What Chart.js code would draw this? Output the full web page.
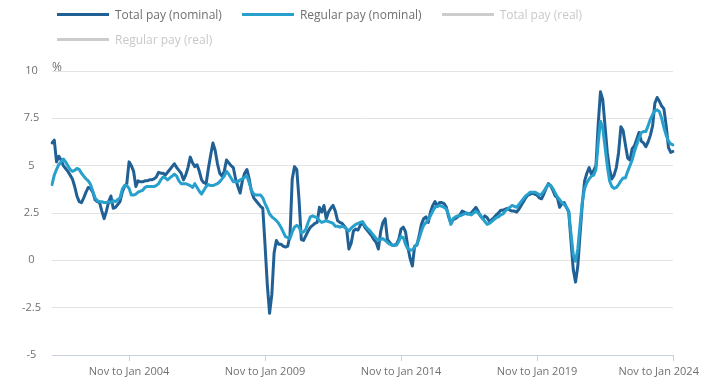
<!DOCTYPE html>
<html>
<head>
<meta charset="utf-8">
<title>Average weekly earnings growth</title>
<script src="https://cdn.jsdelivr.net/npm/chart.js@4.4.1/dist/chart.umd.min.js"></script>
<style>
    html, body { margin: 0; padding: 0; background: #fff; }
    #wrap { position: relative; width: 710px; height: 391px; font-family: 'Open Sans', sans-serif; }
    #chart { position: absolute; left: 0; top: 0; }
    #legend { position: absolute; left: 57px; top: 4px; width: 560px; display: flex; flex-wrap: wrap; column-gap: 20px; row-gap: 5px; }
    #legend .item { display: flex; align-items: center; height: 20px; font-size: 12px; color: #707070; white-space: nowrap; }
    #legend .item.off { color: #c8c8c8; }
    #legend .swatch { display: inline-block; width: 52px; height: 3px; margin-right: 6px; }
    #unit { position: absolute; left: 52px; top: 58px; font-size: 12px; color: #707070; }
</style>
</head>
<body>
<div id="wrap">
    <canvas id="chart" width="710" height="391"></canvas>
    <div id="legend"></div>
    <span id="unit">%</span>
</div>
<script>
// ==================== DATA ====================

// 3-month average, % change on a year earlier; first period is Jan to Mar 2001
const totalPayNominal = [
    6.2, 6.35, 5.2, 5.5, 5.3, 5.0, 4.85, 4.7, 4.5, 4.3,
    3.9, 3.4, 3.1, 3.05, 3.3, 3.6, 3.85, 3.8, 3.6, 3.2,
    3.1, 3.05, 2.6, 2.2, 2.6, 3.1, 3.4, 2.75, 2.8, 2.95,
    3.1, 3.6, 3.9, 4.05, 5.2, 5.0, 4.7, 3.9, 4.2, 4.15,
    4.15, 4.2, 4.2, 4.25, 4.25, 4.3, 4.4, 4.65, 4.6, 4.6,
    4.5, 4.65, 4.8, 4.95, 5.1, 4.9, 4.75, 4.6, 4.25, 4.5,
    4.9, 5.45, 5.15, 4.95, 5.05, 4.7, 4.25, 4.1, 4.05, 4.85,
    5.55, 6.2, 5.8, 5.1, 4.6, 4.45, 4.7, 5.3, 5.15, 5.0,
    4.9, 4.3, 3.9, 3.55, 4.2, 4.6, 4.8, 4.3, 3.65, 3.3,
    3.15, 3.0, 2.85, 2.75, 0.8, -1.3, -2.8, -1.8, 0.4, 1.05,
    0.85, 0.85, 0.75, 0.7, 0.75, 1.3, 4.3, 4.95, 4.8, 3.2,
    1.1, 1.05, 1.3, 1.55, 1.75, 1.85, 1.95, 2.0, 2.8, 2.55,
    2.9, 2.2, 2.55, 2.75, 2.9, 2.6, 2.1, 2.0, 1.95, 1.8,
    1.65, 0.6, 0.9, 1.55, 1.65, 1.6, 1.85, 2.0, 1.75, 1.6,
    1.45, 1.3, 1.1, 0.95, 0.6, 1.5, 2.0, 2.2, 1.1, 0.95,
    0.8, 0.8, 0.85, 1.1, 1.65, 1.75, 1.5, 0.7, 0.1, -0.3,
    0.75, 0.8, 1.3, 1.9, 2.2, 2.3, 2.0, 2.55, 2.9, 3.1,
    2.85, 3.05, 3.05, 3.0, 2.8, 2.3, 1.95, 2.15, 2.2, 2.3,
    2.4, 2.6, 2.55, 2.45, 2.45, 2.5, 2.65, 2.8, 2.6, 2.35,
    2.2, 2.35, 2.25, 2.05, 2.15, 2.25, 2.4, 2.5, 2.65, 2.65,
    2.7, 2.75, 2.65, 2.6, 2.6, 2.55, 2.7, 2.9, 3.1, 3.3,
    3.45, 3.5, 3.55, 3.5, 3.45, 3.3, 3.25, 3.5, 3.8, 4.05,
    3.95, 3.7, 3.4, 3.3, 2.8, 3.0, 3.05, 2.8, 2.55, 1.0,
    -0.5, -1.15, -0.3, 1.4, 3.0, 4.2, 4.6, 4.9, 4.55, 4.75,
    5.0, 7.2, 8.9, 8.5, 7.1, 5.7, 4.8, 4.3, 4.5, 4.9,
    5.7, 7.05, 6.85, 6.1, 5.4, 5.3, 5.9, 6.05, 6.4, 6.75,
    6.3, 6.2, 6.0, 6.25, 6.6, 7.1, 8.3, 8.6, 8.4, 8.15,
    8.0, 7.1, 5.95, 5.7, 5.75
];

const regularPayNominal = [
    4.0, 4.5, 4.8, 5.05, 5.2, 5.35, 5.2, 5.0, 4.8, 4.7,
    4.75, 4.85, 4.8, 4.6, 4.45, 4.3, 4.2, 4.0, 3.65, 3.3,
    3.15, 3.1, 3.1, 3.05, 3.05, 3.1, 3.05, 3.15, 3.1, 3.2,
    3.3, 3.75, 3.95, 3.95, 3.8, 3.45, 3.45, 3.5, 3.6, 3.65,
    3.7, 3.85, 3.9, 3.9, 3.9, 3.9, 3.95, 4.05, 4.25, 4.4,
    4.35, 4.25, 4.35, 4.45, 4.55, 4.45, 4.2, 4.05, 4.05, 4.05,
    4.0, 3.95, 3.85, 4.05, 3.85, 3.65, 3.5, 3.7, 3.9, 4.0,
    3.95, 3.95, 4.0, 4.05, 4.15, 4.3, 4.45, 4.7, 4.55, 4.35,
    4.15, 4.15, 4.15, 4.25, 4.3, 4.4, 4.45, 4.1, 3.7, 3.5,
    3.45, 3.45, 3.45, 3.3, 3.0, 2.75, 2.45, 2.3, 2.2, 2.1,
    1.95, 1.75, 1.5, 1.25, 1.2, 1.15, 1.5, 1.75, 1.85, 1.75,
    1.45, 1.5, 1.65, 2.0, 2.3, 2.35, 2.3, 2.25, 2.1, 2.0,
    2.05, 2.1, 2.05, 2.0, 1.95, 1.8, 1.8, 1.75, 1.8, 1.75,
    1.65, 1.55, 1.7, 1.8, 1.9, 1.95, 2.0, 2.05, 1.85, 1.7,
    1.6, 1.45, 1.3, 1.15, 1.05, 1.1, 1.15, 1.05, 0.95, 0.85,
    0.8, 0.8, 0.8, 1.0, 1.25, 1.2, 0.85, 0.6, 0.55, 0.55,
    0.7, 0.85, 1.15, 1.55, 1.85, 2.0, 2.15, 2.35, 2.6, 2.8,
    2.85, 2.9, 2.85, 2.8, 2.7, 2.4, 1.9, 2.2, 2.3, 2.35,
    2.35, 2.4, 2.45, 2.5, 2.45, 2.4, 2.5, 2.6, 2.5, 2.4,
    2.2, 2.05, 1.9, 1.95, 2.05, 2.15, 2.25, 2.3, 2.4, 2.45,
    2.6, 2.7, 2.8, 2.9, 2.85, 2.8, 2.95, 3.1, 3.25, 3.4,
    3.5, 3.6, 3.6, 3.6, 3.55, 3.45, 3.5, 3.65, 3.85, 4.0,
    3.95, 3.8, 3.55, 3.35, 3.2, 3.05, 2.95, 2.8, 2.6, 1.4,
    0.3, -0.05, 0.6, 1.9, 3.1, 3.8, 4.1, 4.3, 4.45, 4.5,
    4.8, 6.2, 7.35, 7.0, 6.0, 5.0, 4.2, 3.9, 3.8, 3.85,
    4.0, 4.2, 4.35, 4.35, 4.7, 5.0, 5.3, 5.75, 6.1, 6.45,
    6.75, 6.8, 6.8, 7.1, 7.45, 7.7, 7.9, 7.95, 7.85, 7.5,
    7.0, 6.6, 6.3, 6.15, 6.1
];

// real series are switched off in the reference, so they carry no values
const totalPayReal = [];
const regularPayReal = [];

const tickLabels = ['Nov to Jan 2004', 'Nov to Jan 2009', 'Nov to Jan 2014', 'Nov to Jan 2019', 'Nov to Jan 2024'];
const yMin = -5;
const yMax = 10;
const yStep = 2.5;

// ==================== PERIOD LABELS ====================

const MONTHS = ['Jan', 'Feb', 'Mar', 'Apr', 'May', 'Jun', 'Jul', 'Aug', 'Sep', 'Oct', 'Nov', 'Dec'];
const periods = [];
for (let i = 0; i < totalPayNominal.length; i++) {
    const end = 2 + i; // March 2001 is the first period end
    const year = 2001 + Math.floor(end / 12);
    periods.push(MONTHS[(end - 2) % 12] + ' to ' + MONTHS[end % 12] + ' ' + year);
}

// ==================== CHART ====================

const AXIS_BLUE = '#c8d0df';
Chart.defaults.font.family = "'Open Sans', sans-serif";
Chart.defaults.color = '#707070';

const chart = new Chart(document.getElementById('chart'), {
    type: 'line',
    data: {
        labels: periods,
        datasets: [{
            label: 'Total pay (nominal)',
            data: totalPayNominal,
            borderColor: '#206095',
            order: 2
        }, {
            label: 'Regular pay (nominal)',
            data: regularPayNominal,
            borderColor: '#27a0cc',
            order: 1
        }, {
            label: 'Total pay (real)',
            data: totalPayReal,
            borderColor: '#cccccc',
            hidden: true
        }, {
            label: 'Regular pay (real)',
            data: regularPayReal,
            borderColor: '#cccccc',
            hidden: true
        }]
    },
    options: {
        responsive: false,
        animation: false,
        devicePixelRatio: 1,
        layout: { padding: { top: 71, right: 37, bottom: 0, left: 0 } },
        elements: {
            line: { borderWidth: 3, tension: 0, borderJoinStyle: 'round', borderCapStyle: 'round', fill: false },
            point: { radius: 0, hoverRadius: 0 }
        },
        plugins: {
            legend: { display: false },
            tooltip: { enabled: false }
        },
        scales: {
            x: {
                grid: {
                    drawOnChartArea: false,
                    drawTicks: true,
                    tickLength: 6,
                    color: function(ctx) {
                        return ctx.tick && ctx.tick.label ? AXIS_BLUE : 'rgba(0,0,0,0)';
                    }
                },
                border: { color: AXIS_BLUE },
                ticks: {
                    autoSkip: false,
                    maxRotation: 0,
                    minRotation: 0,
                    padding: 4,
                    font: { size: 11 },
                    callback: function(value, index) {
                        const label = this.getLabelForValue(value);
                        if (!tickLabels.includes(label)) return '';
                        // last label sits pulled back inside the plot, as in the original
                        return index === periods.length - 1 ? label + '\u00a0'.repeat(10) : label;
                    }
                },
                afterFit: function(scale) {
                    scale.height = 36;
                    scale.paddingLeft = 0;
                    scale.paddingRight = 0;
                }
            },
            y: {
                min: yMin,
                max: yMax,
                grid: { color: '#e3e3e3', drawTicks: false },
                border: { display: false },
                ticks: {
                    stepSize: yStep,
                    crossAlign: 'center',
                    padding: 11,
                    font: { size: 11 }
                },
                afterFit: function(scale) {
                    scale.width = 52;
                    scale.paddingTop = 0;
                    scale.paddingBottom = 0;
                }
            }
        }
    }
});

// ==================== LEGEND ====================

function buildLegend(chart) {
    const box = document.getElementById('legend');
    chart.data.datasets.forEach(function(ds) {
        const item = document.createElement('div');
        item.className = ds.hidden ? 'item off' : 'item';
        const swatch = document.createElement('span');
        swatch.className = 'swatch';
        swatch.style.background = ds.hidden ? '#cccccc' : ds.borderColor;
        item.appendChild(swatch);
        item.appendChild(document.createTextNode(ds.label));
        box.appendChild(item);
    });
}

buildLegend(chart);
</script>
</body>
</html>
